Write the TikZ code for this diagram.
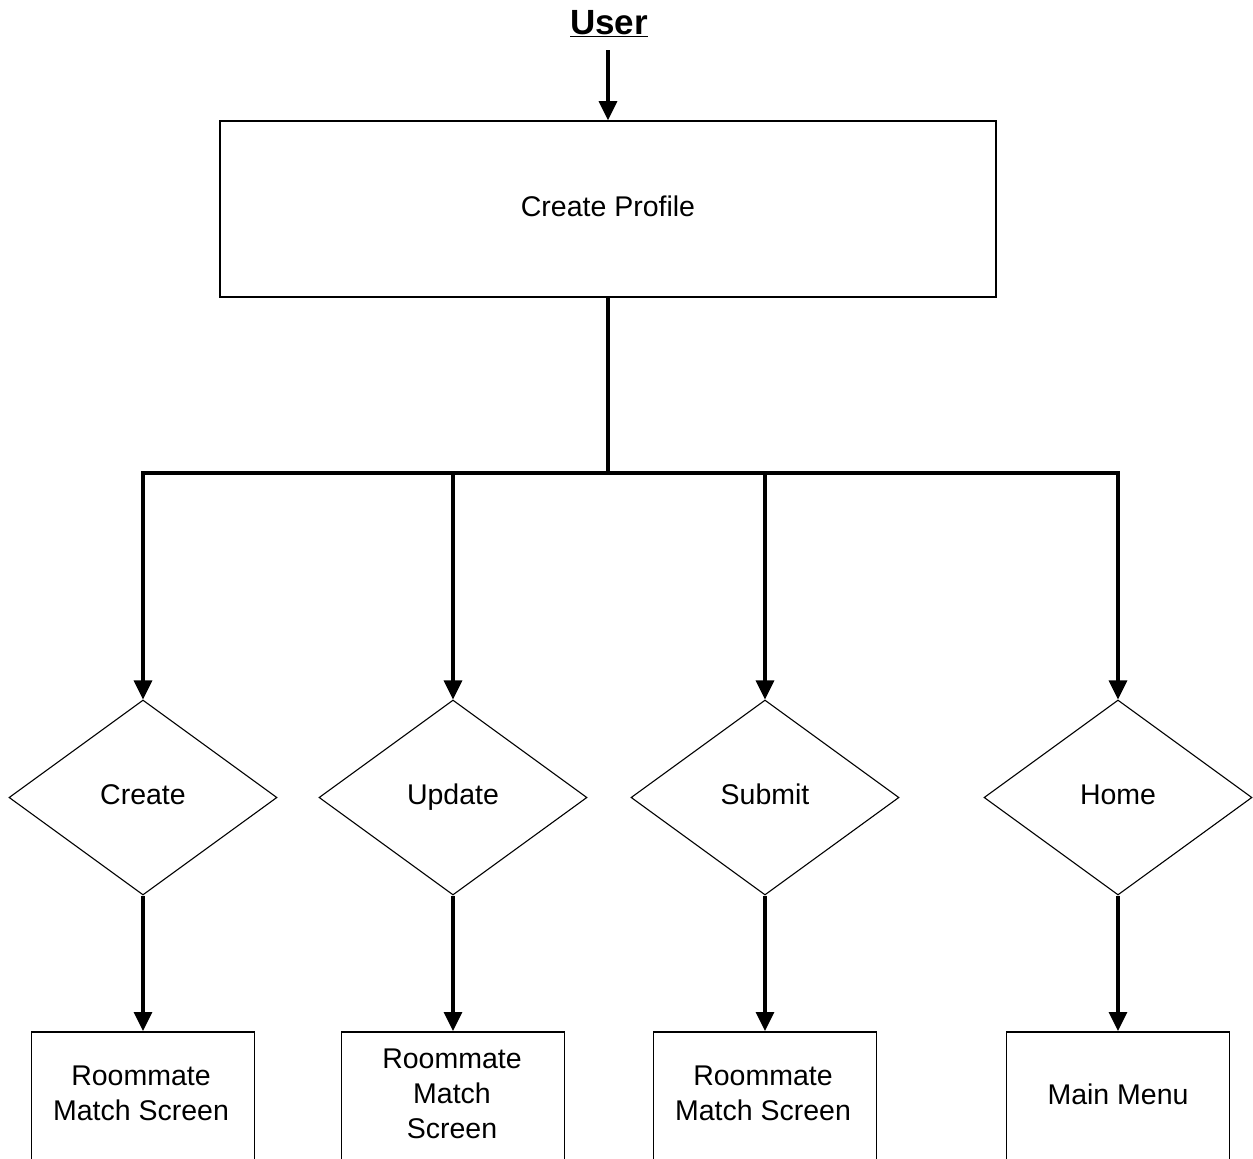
\documentclass[tikz,border=0pt]{standalone}
\usepackage{fontspec}
\setmainfont{Liberation Sans}
\usetikzlibrary{shapes.geometric,arrows.meta}
\tikzset{
  conn/.style={line width=3.2pt,-{Triangle[width=18pt,length=19pt]}},
  plain/.style={line width=3.2pt},
  mainbox/.style={draw,line width=1.6pt,minimum width=776pt,minimum height=176pt,inner sep=0pt,text height=20pt,text depth=6pt,font=\fontsize{28.5}{34}\selectfont},
  dec/.style={draw,diamond,line width=1.1pt,minimum width=268pt,minimum height=195pt,aspect=1.37,inner sep=0pt,text height=20pt,text depth=6pt,font=\fontsize{28.5}{34}\selectfont},
  endbox/.style={draw,line width=1.5pt,minimum width=223pt,minimum height=200pt,anchor=north,inner sep=0pt},
  lbl/.style={align=center,inner sep=0pt,font=\fontsize{28.5}{35}\selectfont},
}
\begin{document}
\begin{tikzpicture}[x=1pt,y=-1pt]
\useasboundingbox (0,0) rectangle (1253,1159);
\clip (0,0) rectangle (1253,1159);
\fill[white] (0,0) rectangle (1253,1159);
\node[inner sep=0pt,font=\fontsize{35}{40}\selectfont\bfseries] (user) at (609,24) {\underline{User}};
\coordinate (ustart) at (608,50);
\node[mainbox] (profile) at (608,209) {Create Profile};
\draw[conn] (ustart) -- (profile.north);
\coordinate (hub) at (608,473);
\node[dec] (d1) at (143,797.5) {Create};
\node[dec] (d2) at (453,797.5) {Update};
\node[dec] (d3) at (765,797.5) {Submit};
\node[dec] (d4) at (1118,797.5) {Home};
\draw[plain] (profile.south) -- (hub);
\draw[conn] (hub) -| (d1.north);
\draw[conn] (hub) -| (d4.north);
\draw[conn] (d2.north |- hub) -- (d2.north);
\draw[conn] (d3.north |- hub) -- (d3.north);
\node[endbox] (b1) at (143,1031) {};
\node[endbox] (b2) at (453,1031) {};
\node[endbox] (b3) at (765,1031) {};
\node[endbox] (b4) at (1118,1031) {};
\node[lbl] (t1) at (141,1093) {Roommate\\Match Screen};
\node[lbl] (t2) at (452,1094) {Roommate\\Match\\Screen};
\node[lbl] (t3) at (763,1093) {Roommate\\Match Screen};
\node[lbl] (t4) at (1118,1094) {Main Menu};
\draw[conn] (d1.south) -- (b1.north);
\draw[conn] (d2.south) -- (b2.north);
\draw[conn] (d3.south) -- (b3.north);
\draw[conn] (d4.south) -- (b4.north);
\end{tikzpicture}
\end{document}
